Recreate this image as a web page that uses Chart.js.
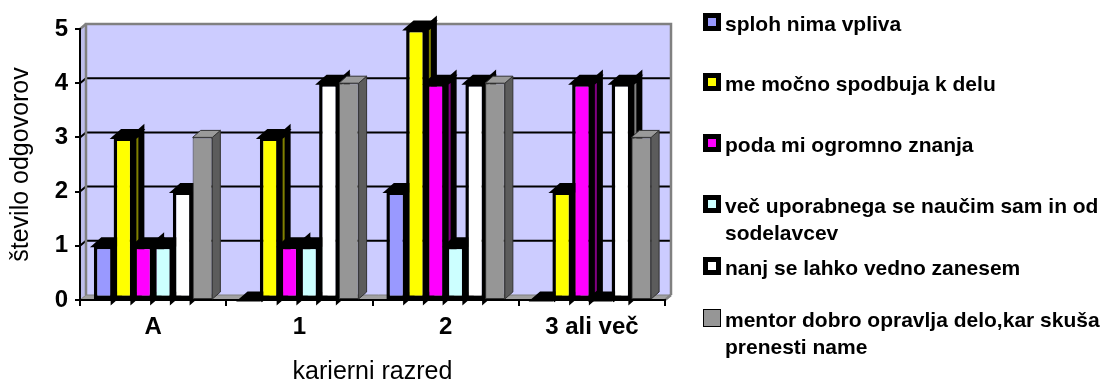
<!DOCTYPE html>
<html lang="sl">
<head>
<meta charset="utf-8">
<title>Vpliv mentorja po kariernih razredih</title>
<script src="https://cdn.jsdelivr.net/npm/chart.js@4.4.1/dist/chart.umd.min.js"></script>
<style>
  html, body { margin: 0; padding: 0; background: #fff; }
  #wrap { position: relative; width: 1109px; height: 385px; overflow: hidden; }
  #chart { position: absolute; left: 0; top: 0; }
  #legend { position: absolute; left: 0; top: 0; width: 1109px; height: 385px; pointer-events: none;
            font-family: 'Liberation Sans', Arial, sans-serif; font-weight: bold; font-size: 21px;
            line-height: 27px; color: #000; }
  .item { position: absolute; left: 725px; width: 384px; }
  .swatch { position: absolute; left: -22px; top: 3px; width: 18px; height: 18px; box-sizing: border-box; }
  .swatch i { position: absolute; left: 5px; top: 5px; width: 8px; height: 8px; }
</style>
</head>
<body>
<div id="wrap">
  <canvas id="chart" width="1109" height="385"></canvas>
  <div id="legend"></div>
</div>
<script>
// categories (career grade) and answer counts per statement
const categories = ['A', '1', '2', '3 ali več'];
const seriesNames = [
  'sploh nima vpliva',
  'me močno spodbuja k delu',
  'poda mi ogromno znanja',
  'več uporabnega se naučim sam in od sodelavcev',
  'nanj se lahko vedno zanesem',
  'mentor dobro opravlja delo,kar skuša prenesti name'
];
const nimaVpliva      = [1, 0, 2, 0];
const spodbuja        = [3, 3, 5, 2];
const znanje          = [1, 1, 4, 4];
const samInSodelavci  = [1, 1, 1, 0];
const zanesljiv       = [2, 4, 4, 4];
const dobroOpravlja   = [3, 4, 4, 3];
const seriesValues = [nimaVpliva, spodbuja, znanje, samInSodelavci, zanesljiv, dobroOpravlja];
const yTicks = [0, 1, 2, 3, 4, 5];
const xTitle = 'karierni razred';
const yTitle = 'število odgovorov';

// styling
const fills  = ['#9999FF', '#FFFF00', '#FF00FF', '#CCFFFF', '#FFFFFF', '#969696'];
const sides  = ['#4d4d80', '#808000', '#800080', '#668080', '#808080', '#5c5c5c'];
const tops   = ['#000000', '#000000', '#000000', '#000000', '#000000', '#9a9a9a'];
const edges  = ['#000000', '#000000', '#000000', '#000000', '#000000', '#333333'];
const edgeW  = [3, 3, 3, 3, 3, 1];
const legendTops = [10, 70, 131, 192, 254, 306];

const FONT = "'Liberation Sans', Arial, sans-serif";
const BAR_DX = 8, BAR_DY = 7;    // bar depth
const WALL_DX = 6, WALL_DY = 5;  // wall depth

// back wall, side wall, floor and wall gridlines
const walls = {
  id: 'walls',
  beforeDraw(chart) {
    const {ctx, chartArea: a, scales: {y}} = chart;
    ctx.save();
    // side wall
    ctx.beginPath();
    ctx.moveTo(a.left, a.top); ctx.lineTo(a.left + WALL_DX, a.top - WALL_DY);
    ctx.lineTo(a.left + WALL_DX, a.bottom - WALL_DY); ctx.lineTo(a.left, a.bottom);
    ctx.closePath();
    ctx.fillStyle = '#bdbdec'; ctx.fill();
    // back wall
    ctx.fillStyle = '#CCCCFF';
    ctx.fillRect(a.left + WALL_DX, a.top - WALL_DY, a.right - a.left, a.bottom - a.top);
    // floor
    ctx.beginPath();
    ctx.moveTo(a.left, a.bottom); ctx.lineTo(a.left + WALL_DX, a.bottom - WALL_DY);
    ctx.lineTo(a.right + WALL_DX, a.bottom - WALL_DY); ctx.lineTo(a.right, a.bottom);
    ctx.closePath();
    ctx.fillStyle = '#a0a0a0'; ctx.fill();
    ctx.strokeStyle = '#808080'; ctx.lineWidth = 1; ctx.stroke();
    // gridlines
    ctx.strokeStyle = '#000'; ctx.lineWidth = 2;
    yTicks.slice(1, -1).forEach(v => {
      const py = y.getPixelForValue(v);
      ctx.beginPath();
      ctx.moveTo(a.left, py); ctx.lineTo(a.left + WALL_DX, py - WALL_DY);
      ctx.lineTo(a.right + WALL_DX, py - WALL_DY);
      ctx.stroke();
    });
    // wall outline
    ctx.strokeStyle = '#808080'; ctx.lineWidth = 2.5;
    ctx.beginPath();
    ctx.moveTo(a.left + WALL_DX, a.bottom - WALL_DY);
    ctx.lineTo(a.left + WALL_DX, a.top - WALL_DY);
    ctx.lineTo(a.right + WALL_DX, a.top - WALL_DY);
    ctx.lineTo(a.right + WALL_DX, a.bottom - WALL_DY);
    ctx.stroke();
    ctx.beginPath();
    ctx.moveTo(a.left, a.top); ctx.lineTo(a.left + WALL_DX, a.top - WALL_DY);
    ctx.moveTo(a.right, a.bottom); ctx.lineTo(a.right + WALL_DX, a.bottom - WALL_DY);
    ctx.stroke();
    ctx.restore();
  }
};

// top and right faces of every bar, drawn behind the front faces
const barDepth = {
  id: 'barDepth',
  beforeDatasetsDraw(chart) {
    const ctx = chart.ctx;
    ctx.save();
    ctx.lineJoin = 'miter';
    chart.data.datasets.forEach((ds, i) => {
      chart.getDatasetMeta(i).data.forEach(bar => {
        const {x, y, base, width} = bar.getProps(['x', 'y', 'base', 'width'], true);
        const l = x - width / 2, r = x + width / 2;
        const thin = edgeW[i] === 1;
        // right face
        ctx.beginPath();
        ctx.moveTo(r, y); ctx.lineTo(r + BAR_DX, y - BAR_DY);
        ctx.lineTo(r + BAR_DX, base - BAR_DY); ctx.lineTo(r, base);
        ctx.closePath();
        ctx.fillStyle = sides[i]; ctx.fill();
        ctx.strokeStyle = edges[i]; ctx.lineWidth = thin ? 1 : 6; ctx.stroke();
        // top face
        ctx.beginPath();
        ctx.moveTo(l, y); ctx.lineTo(l + BAR_DX, y - BAR_DY);
        ctx.lineTo(r + BAR_DX, y - BAR_DY); ctx.lineTo(r, y);
        ctx.closePath();
        ctx.fillStyle = tops[i]; ctx.fill();
        ctx.strokeStyle = edges[i]; ctx.lineWidth = thin ? 1 : 3; ctx.stroke();
      });
    });
    ctx.restore();
  }
};

const datasets = seriesNames.map((name, i) => ({
  label: name,
  data: seriesValues[i],
  backgroundColor: fills[i],
  borderColor: edges[i],
  borderWidth: edgeW[i] === 1 ? 1 : 3.5,
  borderSkipped: false,
  barPercentage: 1,
  categoryPercentage: 0.81
}));

new Chart(document.getElementById('chart'), {
  type: 'bar',
  data: { labels: categories, datasets },
  plugins: [walls, barDepth],
  options: {
    responsive: false,
    animation: false,
    events: [],
    layout: { padding: { top: 29, right: 444, bottom: 0, left: 0 } },
    plugins: { legend: { display: false }, tooltip: { enabled: false } },
    scales: {
      x: {
        offset: true,
        grid: { drawOnChartArea: false, offset: true, tickLength: 6, color: '#000', lineWidth: 2 },
        border: { color: '#000', width: 2 },
        ticks: { color: '#000', padding: 7, font: { family: FONT, size: 24, weight: 'bold' } },
        title: { display: true, text: xTitle, color: '#000',
                 font: { family: FONT, size: 25, lineHeight: 1 }, padding: { top: 0, bottom: 0 } },
        afterFit(s) { s.height = 85; }
      },
      y: {
        min: 0, max: 5,
        afterBuildTicks(s) { s.ticks = yTicks.map(v => ({ value: v })); },
        grid: { drawOnChartArea: false, tickLength: 5, color: '#000', lineWidth: 2 },
        border: { color: '#000', width: 2 },
        ticks: { color: '#000', padding: 7, font: { family: FONT, size: 24, weight: 'bold' } },
        title: { display: true, text: yTitle, color: '#000',
                 font: { family: FONT, size: 25, lineHeight: 1 }, padding: { top: 9, bottom: 0 } },
        afterFit(s) { s.width = 80; }
      }
    }
  }
});

// legend on the right
const legend = document.getElementById('legend');
seriesNames.forEach((name, i) => {
  const item = document.createElement('div');
  item.className = 'item';
  item.style.top = legendTops[i] + 'px';
  const sw = document.createElement('span');
  sw.className = 'swatch';
  if (edgeW[i] === 1) {
    sw.style.background = fills[i];
    sw.style.border = '1.5px solid #000';
  } else {
    sw.style.background = '#000';
    const inner = document.createElement('i');
    inner.style.background = fills[i];
    sw.appendChild(inner);
  }
  item.appendChild(sw);
  item.appendChild(document.createTextNode(name));
  legend.appendChild(item);
});
</script>
</body>
</html>
